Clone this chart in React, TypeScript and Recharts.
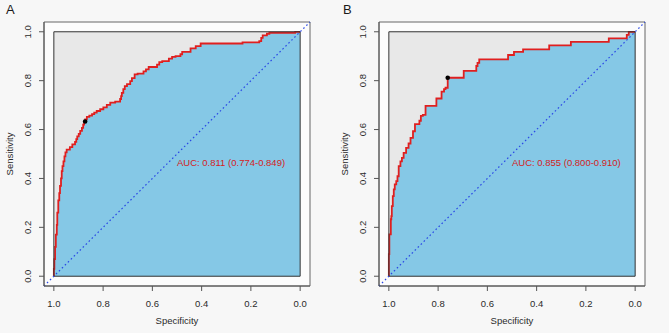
import { ComposedChart, Area, XAxis, YAxis, ReferenceArea, ReferenceLine, ReferenceDot } from 'recharts';

// ROC curve A: specificity / sensitivity at each step
const specA = [
  1.0, 0.998, 0.995, 0.992, 0.988, 0.986, 0.982, 0.978, 0.975, 0.971, 0.968, 0.965, 0.961, 0.957, 0.953,
  0.948, 0.935, 0.925, 0.914, 0.909, 0.905, 0.899, 0.893, 0.886, 0.881, 0.877, 0.873, 0.866, 0.856, 0.845,
  0.836, 0.826, 0.812, 0.799, 0.785, 0.771, 0.751, 0.731, 0.727, 0.724, 0.718, 0.712, 0.703, 0.69, 0.683,
  0.672, 0.66, 0.636, 0.626, 0.615, 0.581, 0.572, 0.56, 0.533, 0.52, 0.506, 0.486, 0.479, 0.445, 0.424,
  0.404, 0.234, 0.166, 0.158, 0.152, 0.135, 0.125, 0.118, 0.02, 0.0,
];
const sensA = [
  0.0, 0.03, 0.07, 0.12, 0.17, 0.21, 0.26, 0.31, 0.34, 0.37, 0.4, 0.43, 0.45, 0.47, 0.49,
  0.507, 0.518, 0.528, 0.539, 0.55, 0.561, 0.572, 0.582, 0.595, 0.607, 0.62, 0.633, 0.642, 0.652, 0.657,
  0.663, 0.669, 0.676, 0.683, 0.691, 0.701, 0.71, 0.714, 0.725, 0.737, 0.75, 0.765, 0.778, 0.786, 0.798,
  0.81, 0.826, 0.829, 0.838, 0.846, 0.856, 0.866, 0.876, 0.88, 0.89, 0.897, 0.9, 0.908, 0.918, 0.932,
  0.941, 0.952, 0.957, 0.962, 0.975, 0.985, 0.992, 0.996, 0.996, 1.0,
];

// ROC curve B
const specB = [
  1.0, 0.998, 0.992, 0.99, 0.988, 0.984, 0.98, 0.976, 0.97, 0.965, 0.96, 0.953, 0.947, 0.94, 0.93,
  0.92, 0.912, 0.902, 0.894, 0.876, 0.87, 0.862, 0.851, 0.807, 0.786, 0.776, 0.77, 0.761, 0.696, 0.645,
  0.64, 0.633, 0.516, 0.492, 0.455, 0.349, 0.261, 0.107, 0.034, 0.026, 0.0,
];
const sensB = [
  0.0, 0.09, 0.171, 0.233, 0.246, 0.287, 0.328, 0.355, 0.376, 0.389, 0.409, 0.45, 0.47, 0.484, 0.505,
  0.525, 0.543, 0.566, 0.593, 0.622, 0.636, 0.656, 0.66, 0.697, 0.727, 0.755, 0.765, 0.771, 0.812, 0.84,
  0.86, 0.873, 0.887, 0.905, 0.918, 0.928, 0.944, 0.959, 0.973, 0.987, 1.0,
];

// best threshold points
const bestA = { spec: 0.873, sens: 0.633 };
const bestB = { spec: 0.761, sens: 0.812 };

const aucA = 'AUC: 0.811 (0.774-0.849)';
const aucB = 'AUC: 0.855 (0.800-0.910)';

const axisTicks = [0, 0.2, 0.4, 0.6, 0.8, 1];
const tickLabels = ['0.0', '0.2', '0.4', '0.6', '0.8', '1.0'];

const FONT = '"Liberation Sans", Arial, sans-serif';
const LO = -0.04;
const HI = 1.04;

const fmt = (v: number) => tickLabels[axisTicks.indexOf(v)] ?? v.toFixed(1);

const YTick = ({ x, y, payload }: any) => (
  <text
    x={x}
    y={y}
    dy="0.35em"
    textAnchor="middle"
    transform={`rotate(-90 ${x} ${y})`}
    fill="#2a2a2a"
    fontSize={9.5}
    fontFamily={FONT}
  >
    {fmt(payload.value)}
  </text>
);

interface PanelProps {
  letter: string;
  spec: number[];
  sens: number[];
  best: { spec: number; sens: number };
  auc: string;
  left: number;
  width: number;
  ml: number;
  mr: number;
}

const RocPanel = ({ letter, spec, sens, best, auc, left, width, ml, mr }: PanelProps) => {
  const data = spec.map((s, i) => ({ spec: s, sens: sens[i] }));
  return (
    <div style={{ position: 'absolute', left, top: 0, width, height: 333 }}>
      <div
        style={{
          position: 'absolute',
          left: letter === 'A' ? 6 : 13,
          top: 3,
          fontFamily: FONT,
          fontSize: 13,
          lineHeight: '13px',
          color: '#1a1a1a',
        }}
      >
        {letter}
      </div>
      <ComposedChart
        width={width}
        height={333}
        data={data}
        margin={{ top: 22, right: mr, bottom: 17, left: ml }}
        style={{ fontFamily: FONT }}
      >
        <XAxis
          dataKey="spec"
          type="number"
          domain={[LO, HI]}
          reversed
          ticks={axisTicks}
          tickFormatter={fmt}
          height={30}
          tickSize={5}
          tickMargin={9}
          stroke="#555"
          tick={{ fill: '#2a2a2a', fontSize: 9.5 }}
          label={{ value: 'Specificity', position: 'bottom', offset: 1, fill: '#2a2a2a', fontSize: 9.5 }}
        />
        <YAxis
          dataKey="sens"
          type="number"
          domain={[LO, HI]}
          ticks={axisTicks}
          width={34}
          tickSize={5}
          tickMargin={11}
          stroke="#555"
          tick={YTick}
          label={{
            value: 'Sensitivity',
            angle: -90,
            position: 'insideLeft',
            offset: 0,
            fill: '#2a2a2a',
            fontSize: 9.5,
            style: { textAnchor: 'middle' },
          }}
        />
        <ReferenceArea x1={LO} x2={HI} y1={LO} y2={HI} fill="#fcfcfc" fillOpacity={1} stroke="#666" zIndex={-10} />
        <ReferenceArea x1={0} x2={1} y1={0} y2={1} fill="#e8e8e8" fillOpacity={1} stroke="none" zIndex={-5} />
        <Area
          dataKey="sens"
          type="stepBefore"
          baseValue={0}
          fill="#85c8e6"
          fillOpacity={1}
          stroke="#e01f1f"
          strokeWidth={1.8}
          dot={false}
          activeDot={false}
          isAnimationActive={false}
        />
        <ReferenceArea x1={0} x2={1} y1={0} y2={1} fill="none" stroke="#333" zIndex={150} />
        <ReferenceLine
          segment={[
            { x: HI, y: LO },
            { x: LO, y: HI },
          ]}
          stroke="#2a48e6"
          strokeDasharray="1.6 2.6"
          strokeWidth={1.2}
        />
        <ReferenceDot x={best.spec} y={best.sens} r={2.3} fill="#000" stroke="none" />
        <ReferenceDot
          x={0.5}
          y={0.465}
          r={0}
          fill="none"
          stroke="none"
          label={{ value: auc, position: 'right', offset: 0, fill: '#d42222', fontSize: 9.5 }}
        />
      </ComposedChart>
    </div>
  );
}

export default function App() {
  return (
    <div style={{ position: 'absolute', left: 0, top: 0, width: 669, height: 333, background: '#f7f7f7', overflow: 'hidden' }}>
      <RocPanel letter="A" spec={specA} sens={sensA} best={bestA} auc={aucA} left={0} width={330} ml={10} mr={20} />
      <RocPanel letter="B" spec={specB} sens={sensB} best={bestB} auc={aucB} left={330} width={339} ml={15} mr={24} />
    </div>
  );
}
